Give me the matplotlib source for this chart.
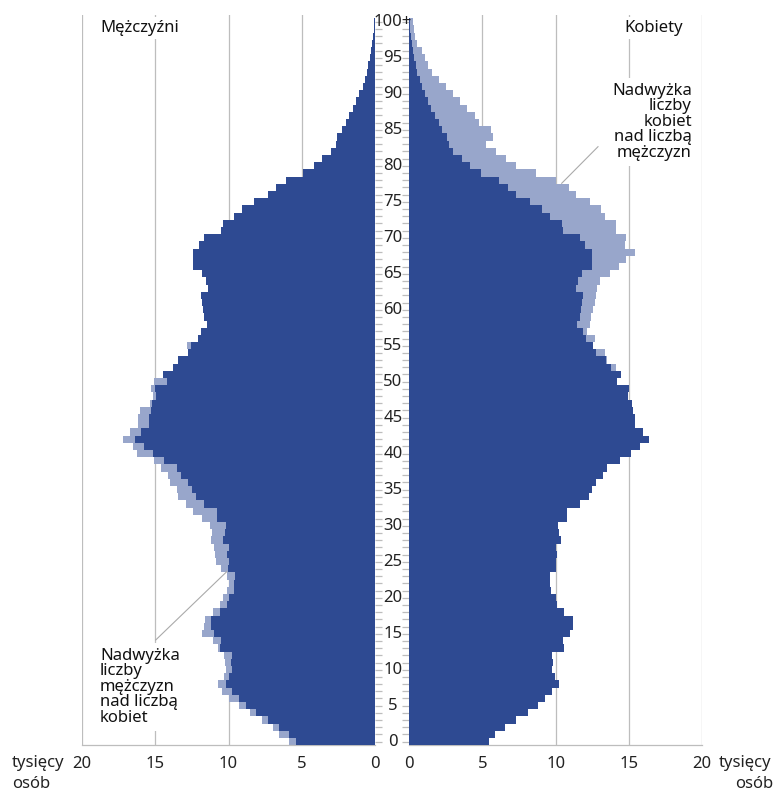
import numpy as np
import matplotlib
matplotlib.use("Agg")
import matplotlib.pyplot as plt
import matplotlib.transforms as mtransforms

plt.rcParams['font.family'] = ['Noto Sans', 'DejaVu Sans']

# wiek 0..100+ (tysiące osób)
ages = np.arange(0, 101)
age_labels = [str(a) if a < 100 else "100+" for a in range(0, 101, 5)]

males = [
    5.90, 6.52, 6.93, 7.72, 8.52, 9.31, 10.00, 10.45, 10.75, 10.29,   # 0-9
    10.16, 10.22, 10.29, 10.75, 11.06, 11.82, 11.70, 11.59, 11.06, 10.56,  # 10-19
    10.38, 10.11, 10.00, 10.11, 10.50, 10.83, 10.90, 10.97, 11.20, 11.13,  # 20-29
    11.25, 11.82, 12.39, 12.88, 13.47, 13.52, 13.97, 14.16, 14.61, 15.11,  # 30-39
    16.24, 16.52, 17.20, 16.74, 16.20, 16.20, 16.06, 15.38, 15.15, 15.29,  # 40-49
    15.06, 14.45, 13.80, 13.45, 12.75, 12.80, 12.10, 11.88, 11.49, 11.67,  # 50-59
    11.74, 11.82, 11.88, 11.40, 11.51, 11.78, 12.45, 12.45, 12.45, 12.02,  # 60-69
    11.67, 10.52, 10.40, 9.63, 9.08, 8.25, 7.27, 6.75, 6.10, 4.90,       # 70-79
    4.13, 3.60, 3.00, 2.68, 2.58, 2.25, 2.00, 1.75, 1.50, 1.28,          # 80-89
    1.10, 0.85, 0.70, 0.55, 0.45, 0.33, 0.25, 0.18, 0.12, 0.08,          # 90-99
    0.05,                                                                # 100+
]

females = [
    5.42, 5.87, 6.55, 7.30, 8.10, 8.80, 9.30, 9.75, 10.20, 9.96,
    9.78, 9.85, 9.76, 10.60, 10.50, 11.00, 11.20, 11.18, 10.55, 10.10,
    10.00, 9.65, 9.62, 9.58, 10.05, 10.00, 10.07, 10.00, 10.35, 10.25,
    10.16, 10.80, 10.80, 11.65, 12.25, 12.50, 12.75, 13.25, 13.50, 14.40,
    15.18, 15.75, 16.36, 16.00, 15.41, 15.41, 15.31, 15.20, 14.95, 15.00,
    14.20, 14.45, 14.10, 13.50, 13.35, 12.55, 12.66, 12.16, 12.32, 12.39,
    12.54, 12.66, 12.77, 12.82, 13.04, 13.68, 14.36, 14.81, 15.41, 14.74,
    14.81, 14.09, 14.09, 13.34, 13.10, 12.32, 11.41, 10.91, 10.05, 8.64,
    7.32, 6.64, 5.95, 5.23, 5.73, 5.55, 4.78, 4.48, 3.91, 3.46,
    3.00, 2.50, 2.02, 1.53, 1.30, 1.07, 0.84, 0.55, 0.39, 0.32,
    0.28,
]

males = np.array(males)
females = np.array(females)
common = np.minimum(males, females)

dark = '#2e4a92'
light = '#98a6cb'
grid_c = '#bdbdbd'
txt_c = '#222222'

W, H = 775, 791
fig = plt.figure(figsize=(W / 100, H / 100), dpi=100)


def fx(px):
    return px / W


def fy(py):
    return 1 - py / H


def step_bars(ax, values, color, z):
    # słupki jednoroczne jako jeden schodkowy wielokąt (bez szczelin)
    edges = np.append(ages - 0.5, ages[-1] + 0.5)
    vals = np.append(values, values[-1])
    ax.fill_betweenx(edges, 0, vals, step='post', color=color, lw=0, zorder=z)


y_top, y_bot = 14.5, 745.3
ax_l = fig.add_axes([fx(82), fy(y_bot), fx(375) - fx(82), (y_bot - y_top) / H])
ax_r = fig.add_axes([fx(409.3), fy(y_bot), fx(702) - fx(409.3), (y_bot - y_top) / H])

for ax in (ax_l, ax_r):
    for v in (5, 10, 15, 20):
        ax.axvline(v, color=grid_c, lw=0.9, zorder=0)
    ax.set_ylim(-0.5, 101)
    for s in ('top', 'left', 'right'):
        ax.spines[s].set_visible(False)
    ax.spines['bottom'].set_color(grid_c)
    ax.spines['bottom'].set_linewidth(0.9)
    ax.set_xticks([0, 5, 10, 15, 20])
    ax.set_xticklabels(['0', '5', '10', '15', '20'])
    ax.tick_params(axis='x', length=0, pad=8, labelsize=12, colors=txt_c)
    ax.set_yticks(ages)
    ax.set_yticklabels([])
    ax.tick_params(axis='y', length=5, width=0.9, color=grid_c)

step_bars(ax_l, males, light, 2)
step_bars(ax_l, common, dark, 3)
ax_l.set_xlim(20, 0)
ax_l.yaxis.tick_right()

step_bars(ax_r, females, light, 2)
step_bars(ax_r, common, dark, 3)
ax_r.set_xlim(0, 20)
ax_r.yaxis.tick_left()

# etykiety wieku w środkowej kolumnie
tr = mtransforms.blended_transform_factory(fig.transFigure, ax_l.transData)
for a, lab in zip(range(0, 101, 5), age_labels):
    fig.text(fx(393), a, lab, transform=tr, ha='center', va='center',
             fontsize=12, color=txt_c, zorder=5)

txt_kw = dict(fontsize=12, color='#111111', zorder=6)
box = dict(facecolor='white', edgecolor='none', pad=2)

fig.text(fx(100), fy(28), "Mężczyźni", ha='left', va='center', bbox=box, **txt_kw)
fig.text(fx(683), fy(28), "Kobiety", ha='right', va='center', bbox=box, **txt_kw)

fig.text(fx(100), fy(648), "Nadwyżka\nliczby\nmężczyzn\nnad liczbą\nkobiet",
         ha='left', va='top', linespacing=0.95, bbox=dict(facecolor='white', edgecolor='none', pad=4),
         **txt_kw)
fig.text(fx(692), fy(83), "Nadwyżka\nliczby\nkobiet\nnad liczbą\nmężczyzn",
         ha='right', va='top', multialignment='right', linespacing=0.95,
         bbox=dict(facecolor='white', edgecolor='none', pad=4), **txt_kw)

# linie odnośników
fig.add_artist(plt.Line2D([fx(226.7), fx(155.7)], [fy(571.7), fy(640)], color='#aaaaaa', lw=0.8, zorder=7))
fig.add_artist(plt.Line2D([fx(598), fx(561.7)], [fy(146.7), fy(183.3)], color='#aaaaaa', lw=0.8, zorder=7))

# jednostka osi
fig.text(fx(12), fy(763), "tysięcy", ha='left', va='center', fontsize=12, color=txt_c)
fig.text(fx(12), fy(784), "osób", ha='left', va='center', fontsize=12, color=txt_c)
fig.text(fx(719), fy(763), "tysięcy", ha='left', va='center', fontsize=12, color=txt_c)
fig.text(fx(773), fy(784), "osób", ha='right', va='center', fontsize=12, color=txt_c)

fig.savefig("out.png", dpi=100)
